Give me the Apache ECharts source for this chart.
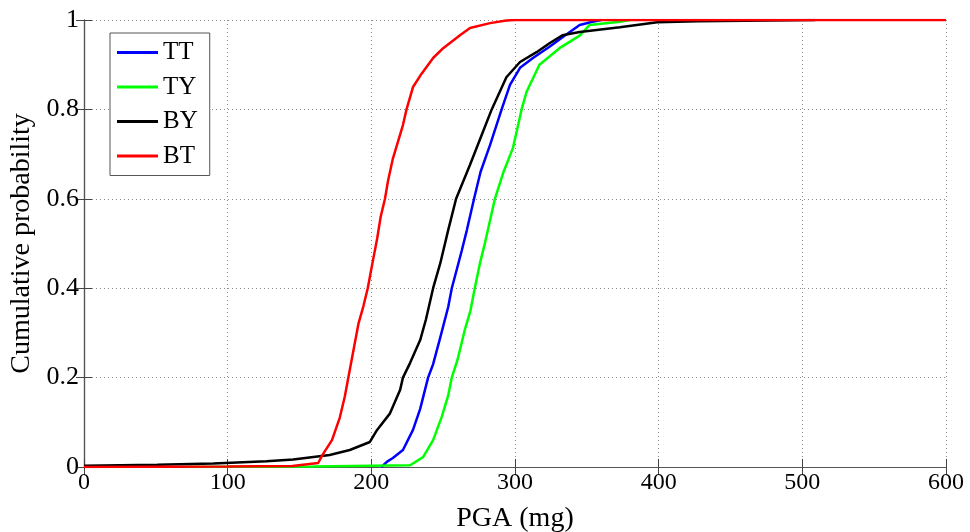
<!DOCTYPE html>
<html>
<head>
<meta charset="utf-8">
<script src="https://cdn.jsdelivr.net/npm/echarts@6/dist/echarts.min.js"></script>
<style>html,body{margin:0;padding:0;background:#fff;}#c{width:970px;height:532px;}</style>
</head>
<body>
<div id="c"></div>
<script>
const seriesNames = ['TT', 'TY', 'BY', 'BT'];
const seriesColors = ['#0000ff', '#00ff00', '#000000', '#ff0000'];

const ttX = [207, 208, 211, 215, 222, 229, 234, 239.5, 243, 248, 253.5, 256, 258.5, 263, 266.5, 271.5, 276, 282.6, 290.7, 296.5, 303.5, 312.5, 324, 335, 345, 354, 360];
const ttY = [0, 0.004, 0.012, 0.02, 0.038, 0.083, 0.13, 0.2, 0.23, 0.29, 0.358, 0.4, 0.43, 0.485, 0.53, 0.6, 0.66, 0.72, 0.8, 0.855, 0.893, 0.915, 0.94, 0.966, 0.989, 0.996, 1];

const tyX = [69, 160, 227, 236, 243, 249, 253.5, 256, 260, 265, 269, 272, 275.6, 279, 286, 292, 298.6, 304.6, 308, 317, 331, 345, 352, 373, 380];
const tyY = [0, 0.001, 0.004, 0.022, 0.06, 0.112, 0.16, 0.2, 0.24, 0.306, 0.35, 0.4, 0.456, 0.5, 0.6, 0.66, 0.714, 0.8, 0.839, 0.9, 0.937, 0.965, 0.989, 0.996, 1];

const byX = [0, 51, 90, 127, 145.6, 171, 185, 199, 204, 213, 220, 222, 227, 234, 238, 243, 248, 253.5, 259, 268.7, 277.7, 283.8, 294, 303.5, 315, 324, 333, 345, 373, 399, 427, 509];
const byY = [0.003, 0.005, 0.008, 0.013, 0.017, 0.027, 0.038, 0.056, 0.083, 0.12, 0.172, 0.2, 0.233, 0.284, 0.33, 0.4, 0.456, 0.53, 0.6, 0.676, 0.75, 0.8, 0.872, 0.906, 0.928, 0.948, 0.966, 0.973, 0.984, 0.995, 0.997, 1];

const btX = [0, 100, 145, 163, 166, 172.6, 178, 181.5, 184, 187.5, 191, 194.5, 197.5, 201, 204, 206.5, 209.5, 211.6, 215, 222, 224.5, 229, 235, 243, 250, 261.7, 268.7, 282.6, 294, 300, 600];
const btY = [0, 0.001, 0.002, 0.009, 0.027, 0.06, 0.11, 0.157, 0.2, 0.26, 0.32, 0.36, 0.4, 0.46, 0.51, 0.56, 0.6, 0.64, 0.69, 0.765, 0.8, 0.85, 0.88, 0.915, 0.937, 0.966, 0.982, 0.993, 0.999, 1, 1];

const xTicks = [0, 100, 200, 300, 400, 500, 600];
const yTicks = [0, 0.2, 0.4, 0.6, 0.8, 1];

const allX = [ttX, tyX, byX, btX];
const allY = [ttY, tyY, byY, btY];

const font = '"Liberation Serif", "Times New Roman", serif';
const gridLine = { show: true, lineStyle: { color: '#8c8c8c', type: [1, 3], width: 1 } };
const axLine = { show: true, lineStyle: { color: '#555', width: 1.2 } };
const tick = { show: true, inside: true, length: 8, lineStyle: { color: '#444', width: 1 } };

const chart = echarts.init(document.getElementById('c'), null, { renderer: 'canvas' });
chart.setOption({
  animation: false,
  backgroundColor: '#fff',
  grid: { left: 84, right: 24, top: 20, bottom: 65, containLabel: false, outerBoundsMode: 'none' },
  legend: {
    data: seriesNames,
    orient: 'vertical',
    left: 110,
    top: 33,
    icon: 'rect',
    itemWidth: 41,
    itemHeight: 3,
    itemGap: 9.5,
    padding: [7, 12, 7, 7],
    borderColor: '#555',
    borderWidth: 1,
    backgroundColor: '#fff',
    textStyle: { fontFamily: font, fontSize: 25, color: '#000', lineHeight: 24, padding: [0, 0, 0, 0] }
  },
  xAxis: [
    {
      type: 'value', min: 0, max: 600, interval: 100,
      name: 'PGA (mg)', nameLocation: 'middle', nameGap: 38,
      nameTextStyle: { fontFamily: font, fontSize: 28, color: '#000' },
      axisLine: axLine, axisTick: tick, splitLine: gridLine,
      axisLabel: { fontFamily: font, fontSize: 24, color: '#000', margin: 4,
        customValues: xTicks }
    },
    {
      type: 'value', min: 0, max: 600, interval: 100, position: 'top',
      axisLine: axLine, axisTick: tick, splitLine: { show: false }, axisLabel: { show: false }
    }
  ],
  yAxis: [
    {
      type: 'value', min: 0, max: 1, interval: 0.2,
      name: 'Cumulative probability', nameLocation: 'middle', nameGap: 43,
      nameTextStyle: { fontFamily: font, fontSize: 28, color: '#000' },
      axisLine: axLine, axisTick: tick, splitLine: gridLine,
      axisLabel: { fontFamily: font, fontSize: 26, color: '#000', margin: 5,
        customValues: yTicks,
        formatter: v => (v === 0 || v === 1) ? String(v) : v.toFixed(1) }
    },
    {
      type: 'value', min: 0, max: 1, interval: 0.2, position: 'right',
      axisLine: axLine, axisTick: tick, splitLine: { show: false }, axisLabel: { show: false }
    }
  ],
  series: seriesNames.map((n, i) => ({
    name: n,
    type: 'line',
    showSymbol: false,
    symbol: 'none',
    color: seriesColors[i],
    lineStyle: { width: 2.5, color: seriesColors[i] },
    data: allX[i].map((x, j) => [x, allY[i][j]]),
    z: 2 + i
  }))
});
</script>
</body>
</html>
